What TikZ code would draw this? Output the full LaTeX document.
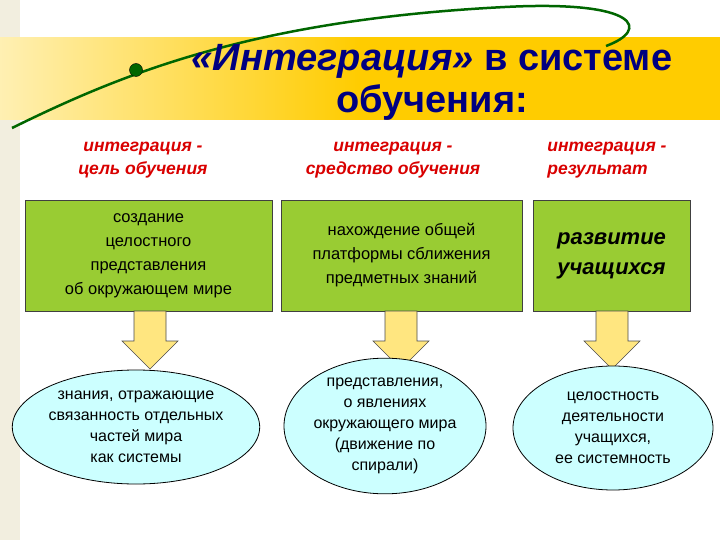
\documentclass[tikz,border=0pt]{standalone}
\usepackage{fontspec}
\setmainfont{Liberation Sans}
\usetikzlibrary{shapes.geometric}
\definecolor{boxg}{HTML}{99CC33}
\definecolor{ellc}{HTML}{CCFFFF}
\definecolor{navy}{HTML}{000080}
\definecolor{band}{HTML}{FFCC00}
\definecolor{arry}{HTML}{FFE680}
\definecolor{parch}{HTML}{F2EEDF}
\tikzset{
 gbox/.style={draw=black!75, line width=0.8pt, fill=boxg, align=center, inner sep=2pt, font=\fontsize{16.5}{24}\selectfont},
 ell/.style={ellipse, draw=black, line width=0.8pt, fill=ellc, align=center, inner sep=0pt, font=\fontsize{16}{21}\selectfont},
 sub/.style={text=red!85!black, font=\fontsize{17.5}{23}\selectfont\bfseries\itshape, align=left},
 darr/.style={draw=black!70, fill=arry, line width=0.6pt}
}
\begin{document}
\begin{tikzpicture}[x=1pt,y=-1pt]
\useasboundingbox (0,0) rectangle (720,540);
\fill[white] (0,0) rectangle (720,540);
\fill[parch] (0,0) rectangle (20,540);
\shade[left color=band!30, right color=band, middle color=band] (0,38) rectangle (720,120);
\draw[green!40!black, line width=2.5pt] (12,128) .. controls (120,75) and (250,20) .. (505,7) .. controls (640,0) and (650,30) .. (606,46);
\node[circle, fill=green!40!black, draw=black, minimum size=13pt, inner sep=0pt] (dot) at (136,70) {};
\node[text=navy, font=\fontsize{38}{42}\selectfont\bfseries, align=center] (title) at (432,82) {\textit{«Интеграция»} в системе\\обучения:};
\node[sub, align=center] (s1) at (143,160) {интеграция -\\цель обучения};
\node[sub, align=center] (s2) at (393,160) {интеграция -\\средство обучения};
\node[sub] (s3) at (607,160) {интеграция -\\результат};
\node[gbox, minimum width=247pt, minimum height=111pt] (b1) at (148.5,255.5) {создание\\целостного\\представления\\об окружающем мире};
\node[gbox, minimum width=241pt, minimum height=111pt] (b2) at (401.5,255.5) {нахождение общей\\платформы сближения\\предметных знаний};
\node[gbox, minimum width=157pt, minimum height=111pt, font=\fontsize{22}{30}\selectfont\bfseries\itshape] (b3) at (611.5,255.5) {развитие\\учащихся};
\foreach \n/\x in {a1/150,a2/401,a3/612}{
 \coordinate (\n) at (\x,311);
 \draw[darr] (\n) ++(-16,0) -- ++(0,30) -- ++(-12,0) -- ++(28,28) -- ++(28,-28) -- ++(-12,0) -- ++(0,-30) -- cycle;
}
\node[ell, minimum width=238pt, minimum height=114pt] (e1) at (136,427) {знания, отражающие\\связанность отдельных\\частей мира\\как системы};
\node[ell, minimum width=200pt, minimum height=124pt] (e2) at (385,426) {представления,\\о явлениях\\окружающего мира\\(движение по\\спирали)};
\node[ell, minimum width=200pt, minimum height=124pt] (e3) at (613,428) {целостность\\деятельности\\учащихся,\\ее системность};
\end{tikzpicture}
\end{document}
